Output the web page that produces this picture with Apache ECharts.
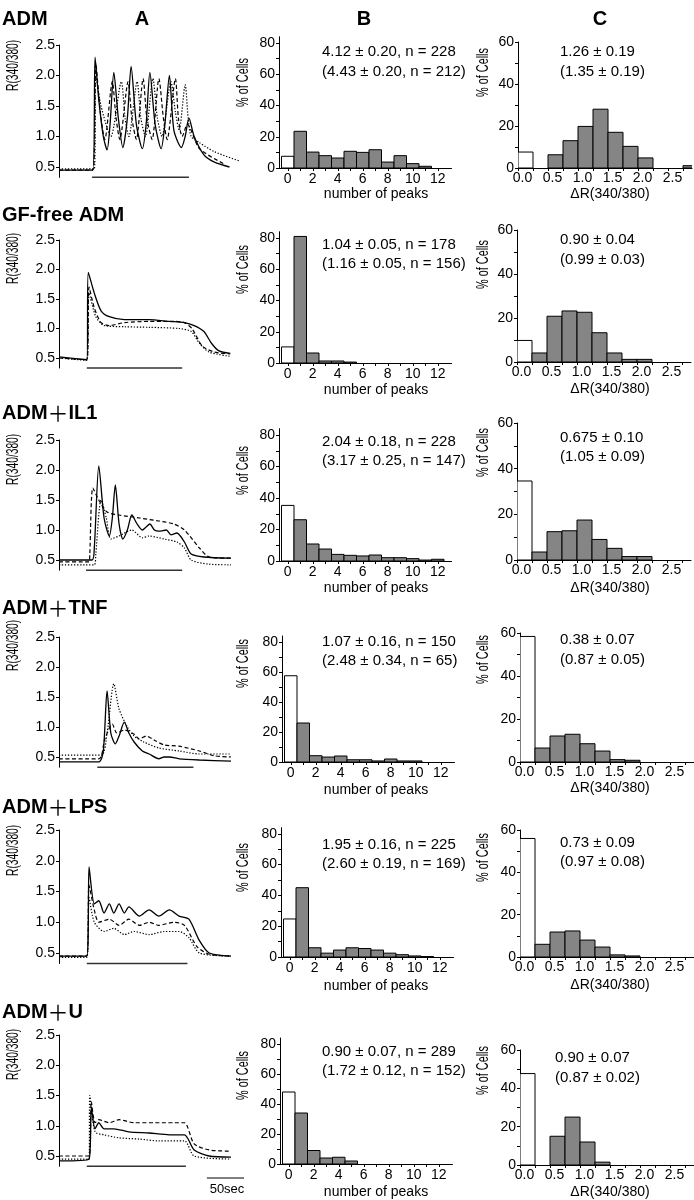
<!DOCTYPE html>
<html><head><meta charset="utf-8">
<script src="https://cdn.jsdelivr.net/npm/echarts@6/dist/echarts.min.js"></script>
<style>html,body{margin:0;padding:0;background:#fff}#c{width:694px;height:1200px}</style>
</head><body><div id="c"></div>
<script>
// ---------------- DATA ----------------
const conditions = ['ADM', 'GF-free ADM', 'ADM＋IL1', 'ADM＋TNF', 'ADM＋LPS', 'ADM＋U'];
const columnHeaders = ['A', 'B', 'C'];

// Column A: representative traces, [time (s), R(340/380)]
const solidADM  = [[0,0.45],[45,0.45],[48,2.3],[53,1.6],[59,1.0],[64,0.78],[68,1.2],[73,2.05],[79,1.3],[85,0.82],[91,1.3],[96,2.15],[103,1.2],[111,0.8],[116,1.2],[121,2.05],[128,1.2],[136,0.8],[141,1.2],[147,2.0],[153,1.1],[163,0.82],[168,1.0],[173,1.3],[180,1.0],[193,0.7],[207,0.58],[227,0.5]];
const dashedADM = [[0,0.45],[45,0.45],[49,2.2],[55,1.4],[61,0.95],[71,1.9],[76,1.3],[81,0.95],[92,1.9],[97,1.3],[103,0.95],[112,1.95],[117,1.3],[124,0.95],[133,1.95],[139,1.3],[144,0.95],[155,1.95],[159,1.3],[164,1.0],[171,1.2],[187,0.8],[220,0.55]];
const dottedADM = [[0,0.47],[47,0.47],[49,2.0],[56,1.5],[69,1.0],[83,1.9],[88,1.3],[93,1.0],[104,1.9],[109,1.3],[115,1.0],[125,1.95],[131,1.3],[137,1.0],[149,1.9],[155,1.4],[160,1.1],[168,1.85],[172,1.3],[176,1.0],[187,0.9],[207,0.75],[240,0.6]];

const solidGF  = [[0,0.52],[37,0.47],[39,1.95],[47,1.6],[56,1.3],[67,1.2],[87,1.15],[120,1.15],[147,1.12],[167,1.1],[180,1.05],[193,0.95],[203,0.75],[213,0.62],[228,0.58]];
const dashedGF = [[0,0.5],[37,0.47],[40,1.7],[47,1.35],[56,1.1],[67,1.05],[87,1.1],[120,1.12],[153,1.12],[167,1.1],[177,1.0],[191,0.7],[207,0.6],[228,0.57]];
const dottedGF = [[0,0.5],[37,0.46],[40,1.6],[49,1.2],[60,1.05],[87,1.03],[120,1.02],[160,1.0],[176,0.95],[187,0.75],[200,0.6],[228,0.53]];

const solidIL1  = [[0,0.5],[44,0.5],[47,0.7],[53,2.07],[60,1.2],[67,0.9],[71,1.2],[75,1.75],[80,1.1],[85,0.85],[91,1.0],[97,1.25],[104,1.1],[111,1.0],[116,1.05],[121,1.1],[127,1.0],[133,0.98],[143,1.0],[149,0.92],[157,0.95],[167,0.8],[176,0.6],[193,0.55],[229,0.53]];
const dashedIL1 = [[0,0.47],[40,0.47],[41,0.6],[45,1.7],[53,1.5],[64,1.3],[80,1.25],[107,1.2],[133,1.15],[153,1.1],[167,1.0],[187,0.7],[200,0.55],[229,0.53]];
const dottedIL1 = [[0,0.42],[47,0.42],[49,0.6],[56,1.5],[63,1.2],[69,0.85],[80,0.9],[97,1.0],[111,0.87],[120,0.9],[140,0.85],[157,0.8],[167,0.7],[176,0.5],[200,0.43],[229,0.42]];

const solidTNF  = [[0,0.42],[53,0.42],[59,0.6],[64,1.6],[69,0.9],[75,0.72],[80,0.85],[87,1.08],[93,0.9],[100,0.75],[111,0.6],[120,0.55],[133,0.47],[140,0.5],[147,0.5],[160,0.47],[187,0.45],[229,0.43]];
const dashedTNF = [[0,0.47],[53,0.47],[61,0.8],[71,1.05],[77,0.9],[87,0.95],[100,0.88],[107,0.8],[116,0.85],[127,0.78],[140,0.7],[160,0.68],[187,0.6],[207,0.52],[229,0.5]];
const dottedTNF = [[0,0.53],[56,0.53],[64,0.9],[73,1.72],[80,1.3],[91,1.0],[100,0.85],[113,0.75],[133,0.65],[160,0.6],[187,0.55],[229,0.55]];

const solidLPS  = [[0,0.45],[37,0.45],[39,1.0],[40,1.9],[47,1.3],[53,1.35],[60,1.15],[67,1.3],[73,1.15],[80,1.3],[87,1.15],[93,1.25],[107,1.1],[120,1.2],[133,1.1],[147,1.2],[160,1.1],[173,1.05],[187,0.7],[200,0.5],[229,0.45]];
const dashedLPS = [[0,0.45],[37,0.45],[40,1.6],[47,1.2],[53,1.0],[67,1.05],[80,0.95],[93,1.05],[107,0.95],[120,1.0],[133,0.95],[153,1.0],[167,0.95],[184,0.6],[200,0.48],[229,0.45]];
const dottedLPS = [[0,0.43],[37,0.43],[40,1.4],[47,1.0],[60,0.85],[73,0.9],[87,0.8],[100,0.85],[120,0.8],[140,0.85],[160,0.85],[173,0.75],[187,0.5],[229,0.45]];

const solidU  = [[0,0.42],[40,0.45],[43,1.3],[48,0.95],[53,1.05],[60,0.95],[73,0.95],[93,0.9],[120,0.88],[147,0.85],[167,0.85],[180,0.6],[200,0.5],[229,0.48]];
const dashedU = [[0,0.5],[40,0.5],[43,1.4],[48,1.05],[53,1.1],[67,1.05],[80,1.1],[100,1.05],[127,1.05],[153,1.05],[167,1.05],[180,0.7],[200,0.6],[229,0.58]];
const dottedU = [[0,0.45],[40,0.45],[41,1.5],[48,0.9],[60,0.85],[80,0.8],[107,0.78],[133,0.75],[167,0.75],[180,0.5],[229,0.45]];

// stimulus bars (s)
const stimOn  = [44, 37, 36, 51, 37, 37];
const stimOff = [173, 164, 164, 179, 171, 169];
const scaleBarSec = [197, 247]; // 50 sec

// Column B: % of cells vs number of peaks
const peakBins = [0,1,2,3,4,5,6,7,8,9,10,11,12];
const peaksADM = [7.5, 23.5, 10.2, 7.9, 6.4, 10.7, 10, 11.7, 3.8, 7.9, 2.8, 1.1, 0];
const peaksGF  = [10.3, 81, 6.4, 1.3, 1.3, 0.6, 0, 0, 0, 0, 0, 0, 0];
const peaksIL1 = [35.3, 26.2, 10.8, 7.6, 4.2, 3.6, 3.2, 3.8, 2.1, 2.1, 1.5, 0.6, 1.1];
const peaksTNF = [57.5, 26, 4.2, 3.3, 4, 1.5, 1.5, 0.7, 2, 0.7, 0.7, 0, 0];
const peaksLPS = [24.7, 45, 6, 2.5, 4.5, 6, 5.5, 4.5, 2.5, 1.5, 0.7, 0.3, 0];
const peaksU   = [48, 34, 9, 4, 4.5, 2, 0, 0, 0, 0, 0, 0, 0];

// Column C: % of cells vs ΔR(340/380), bins of 0.25 (left edges)
const dRBins = [0,0.25,0.5,0.75,1.0,1.25,1.5,1.75,2.0,2.25,2.5,2.75];
const dRADM = [7.6, 0, 6.3, 13, 19.8, 28, 17, 10.3, 4.8, 0, 0, 1.1];
const dRGF  = [9.8, 4.1, 20.8, 23.2, 22.6, 13.3, 4.1, 1.2, 1.2, 0, 0, 0];
const dRIL1 = [34.6, 3.5, 12.4, 12.8, 17.5, 9, 5.1, 1.5, 1.5, 0, 0, 0];
const dRTNF = [58.4, 6.5, 12.1, 12.9, 8.5, 5.1, 1.1, 0.8, 0, 0, 0, 0];
const dRLPS = [56, 6, 11.8, 12.3, 8, 4.7, 1, 0.5, 0, 0, 0, 0];
const dRU   = [47.7, 0, 15, 25, 12, 1.5, 0, 0, 0, 0, 0, 0];

const statsPeaks = [
  ['4.12 ± 0.20, n = 228', '(4.43 ± 0.20, n = 212)'],
  ['1.04 ± 0.05, n = 178', '(1.16 ± 0.05, n = 156)'],
  ['2.04 ± 0.18, n = 228', '(3.17 ± 0.25, n = 147)'],
  ['1.07 ± 0.16, n = 150', '(2.48 ± 0.34, n = 65)'],
  ['1.95 ± 0.16, n = 225', '(2.60 ± 0.19, n = 169)'],
  ['0.90 ± 0.07, n = 289', '(1.72 ± 0.12, n = 152)']
];
const statsDR = [
  ['1.26 ± 0.19', '(1.35 ± 0.19)'],
  ['0.90 ± 0.04', '(0.99 ± 0.03)'],
  ['0.675 ± 0.10', '(1.05 ± 0.09)'],
  ['0.38 ± 0.07', '(0.87 ± 0.05)'],
  ['0.73 ± 0.09', '(0.97 ± 0.08)'],
  ['0.90 ± 0.07', '(0.87 ± 0.02)']
];

// tick values
const yTicksA = [0.5, 1.0, 1.5, 2.0, 2.5];
const yTicksB = [0, 10, 20, 30, 40, 50, 60, 70, 80];
const yLabelsB = [0, 20, 40, 60, 80];
const xLabelsB = [0, 2, 4, 6, 8, 10, 12];
const yTicksC = [0, 10, 20, 30, 40, 50, 60];
const yLabelsC = [0, 20, 40, 60];
const xTicksC = [0, 0.25, 0.5, 0.75, 1.0, 1.25, 1.5, 1.75, 2.0, 2.25, 2.5, 2.75];
const xLabelsC = [0, 0.5, 1.0, 1.5, 2.0, 2.5];

// ---------------- LAYOUT ----------------
const traces = [
  [solidADM, dashedADM, dottedADM], [solidGF, dashedGF, dottedGF], [solidIL1, dashedIL1, dottedIL1],
  [solidTNF, dashedTNF, dottedTNF], [solidLPS, dashedLPS, dottedLPS], [solidU, dashedU, dottedU]
];
const peaks = [peaksADM, peaksGF, peaksIL1, peaksTNF, peaksLPS, peaksU];
const dRs = [dRADM, dRGF, dRIL1, dRTNF, dRLPS, dRU];

const FF = '"Liberation Sans", Arial, Helvetica, sans-serif';
const layA = [[45,61],[240,59],[440,60],[637,60],[830,61.5],[1035,60.5]];   // top(2.5), px per unit
const layB = [[168,1.5625,279],[363,1.5625,279],[561,1.575,279],[762,1.5,282],[957,1.54,281],[1164,1.5,280]];
const layC = [[42,168,518],[230,362,517],[423,560,517],[633,762,520],[830,957,520],[1050,1165,520]];
const rowLabelY = [19, 215, 413, 608, 807, 1012];
const statBY = [[52,72],[245,264],[442,461],[642,661],[845,864],[1052,1071]];
const statCY = [[52,72],[240,260],[438,457],[640,660],[843,862],[1058,1078]];
const rTitleY = [91, 284, 485, 671, 876, 1080];
const cellsBY = [107, 294, 495, 688, 892, 1100];
const cellsCY = [97, 289, 477, 684, 882, 1095];
const peaksTitleY = [194, 390, 588, 790, 986, 1192];
const dRTitleY = [194, 389, 588, 788, 985, 1192];

const AMIN = 0.33;
const grids = [], xAxes = [], yAxes = [], series = [];
const black = '#000';
const axisLineStyle = { show: true, onZero: false, lineStyle: { color: black, width: 1 } };
const labelStyle = { color: black, fontSize: 14, fontFamily: FF };

function histRender(width, centered) {
  return function (params, api) {
    const x = api.value(0), v = api.value(1);
    if (!(v > 0)) return null;
    const x0 = centered ? x - width / 2 : x;
    const p0 = api.coord([x0, v]);
    const p1 = api.coord([x0 + width, 0]);
    return {
      type: 'rect',
      shape: { x: p0[0], y: p0[1], width: p1[0] - p0[0], height: p1[1] - p0[1] },
      style: { fill: params.dataIndex === 0 ? '#fff' : '#858585', stroke: '#000', lineWidth: 1 }
    };
  };
}

for (let r = 0; r < 6; r++) {
  const gA = 3 * r, gB = 3 * r + 1, gC = 3 * r + 2;
  // ---- A
  grids.push({ left: 59, top: layA[r][0], width: 184, height: (2.5 - AMIN) * layA[r][1] });
  xAxes.push({ type: 'value', gridIndex: gA, min: 0, max: 245, show: false });
  yAxes.push({ type: 'value', gridIndex: gA, min: AMIN, max: 2.5,
    axisLine: axisLineStyle,
    axisTick: { show: true, customValues: yTicksA, length: 3, lineStyle: { color: black } },
    axisLabel: Object.assign({ customValues: yTicksA, formatter: v => v.toFixed(1), margin: 4 }, labelStyle),
    splitLine: { show: false } });
  const types = ['solid', [4, 2.5], [1.3, 1.7]];
  traces[r].forEach((tr, k) => series.push({
    type: 'line', xAxisIndex: gA, yAxisIndex: gA, data: tr, symbol: 'none', smooth: 0.25,
    lineStyle: { color: black, width: k === 0 ? 1.3 : 1.2, type: types[k] }, silent: true, clip: false
  }));
  series.push({ type: 'line', xAxisIndex: gA, yAxisIndex: gA, data: [[stimOn[r], AMIN], [stimOff[r], AMIN]],
    symbol: 'none', clip: false, lineStyle: { color: '#333', width: 1.5 }, silent: true });
  if (r === 5) {
    const v = 0.5 - 22 / layA[r][1];
    series.push({ type: 'line', xAxisIndex: gA, yAxisIndex: gA, data: [[scaleBarSec[0], v], [scaleBarSec[1], v]],
      symbol: 'none', clip: false, lineStyle: { color: '#000', width: 1 }, silent: true });
  }
  // ---- B
  const hB = 84 * layB[r][1];
  grids.push({ left: layB[r][2], top: layB[r][0] - hB, width: 172.5, height: hB });
  xAxes.push({ type: 'value', gridIndex: gB, min: -0.7, max: 13.1,
    axisLine: axisLineStyle,
    axisTick: { show: true, customValues: peakBins, length: 3, lineStyle: { color: black } },
    axisLabel: Object.assign({ customValues: xLabelsB, margin: 4 }, labelStyle),
    splitLine: { show: false } });
  yAxes.push({ type: 'value', gridIndex: gB, min: 0, max: 84,
    axisLine: axisLineStyle,
    axisTick: { show: true, customValues: yTicksB, length: 3, lineStyle: { color: black } },
    axisLabel: Object.assign({ customValues: yLabelsB, margin: 4 }, labelStyle),
    splitLine: { show: false } });
  series.push({ type: 'custom', xAxisIndex: gB, yAxisIndex: gB, clip: true,
    data: peakBins.map((b, i) => [b, peaks[r][i]]), renderItem: histRender(1, true), silent: true });
  // ---- C
  grids.push({ left: layC[r][2], top: layC[r][0], width: 174, height: layC[r][1] - layC[r][0] });
  xAxes.push({ type: 'value', gridIndex: gC, min: 0, max: 2.9,
    axisLine: axisLineStyle,
    axisTick: { show: true, customValues: xTicksC, length: 3, lineStyle: { color: black } },
    axisLabel: Object.assign({ customValues: xLabelsC, formatter: v => v.toFixed(1), margin: 3, padding: [0, 0, 0, 9] }, labelStyle),
    splitLine: { show: false } });
  yAxes.push({ type: 'value', gridIndex: gC, min: 0, max: 60,
    axisLine: axisLineStyle,
    axisTick: { show: true, customValues: yTicksC, length: 3, lineStyle: { color: black } },
    axisLabel: Object.assign({ customValues: yLabelsC, margin: 4 }, labelStyle),
    splitLine: { show: false } });
  series.push({ type: 'custom', xAxisIndex: gC, yAxisIndex: gC, clip: true,
    data: dRBins.map((b, i) => [b, dRs[r][i]]), renderItem: histRender(0.25, false), silent: true });
}

// ---------------- TEXT ----------------
const g = [];
function T(x, y, text, o) {
  o = o || {};
  const el = { type: 'text', x: x, y: y, silent: true,
    style: { text: text, fontFamily: FF, fontSize: o.size || 14, fontWeight: o.weight || 'normal',
      fill: '#000', align: o.align || 'left', verticalAlign: 'middle' } };
  if (o.rot) { el.rotation = Math.PI / 2; el.scaleX = o.sx || 0.74; }
  g.push(el);
}
const headerX = [142, 364, 600];
columnHeaders.forEach((h, i) => T(headerX[i], 19, h, { size: 20, weight: 'bold', align: 'center' }));
for (let r = 0; r < 6; r++) {
  const parts = conditions[r].split('＋');
  const rich = parts.map(p => '{b|' + p + '}').join('{p|＋}');
  g.push({ type: 'text', x: 2, y: rowLabelY[r], silent: true,
    style: { text: rich, verticalAlign: 'middle', align: 'left', fill: '#000',
      rich: { b: { fontFamily: FF, fontSize: 20, fontWeight: 'bold', fill: '#000' },
              p: { fontFamily: '"Noto Sans CJK JP", ' + FF, fontSize: 21, fontWeight: 'normal', fill: '#000' } } } });
  T(14, rTitleY[r], 'R(340/380)', { rot: true, sx: 0.64, size: 16 });
  T(244, cellsBY[r], '% of Cells', { rot: true, sx: 0.68, size: 16 });
  T(484, cellsCY[r], '% of Cells', { rot: true, sx: 0.68, size: 16 });
  T(376, peaksTitleY[r], 'number of peaks', { align: 'center' });
  T(610, dRTitleY[r], 'ΔR(340/380)', { align: 'center' });
  T(322, statBY[r][0], statsPeaks[r][0], { size: 15 });
  T(322, statBY[r][1], statsPeaks[r][1], { size: 15 });
  T(r === 5 ? 555 : 560, statCY[r][0], statsDR[r][0], { size: 15 });
  T(r === 5 ? 555 : 560, statCY[r][1], statsDR[r][1], { size: 15 });
}
T(227, 1189, '50sec', { size: 13, align: 'center' });

const chart = echarts.init(document.getElementById('c'), null, { renderer: 'canvas' });
chart.setOption({
  animation: false,
  backgroundColor: '#fff',
  grid: grids, xAxis: xAxes, yAxis: yAxes, series: series,
  graphic: { elements: g }
});
</script>
</body></html>
